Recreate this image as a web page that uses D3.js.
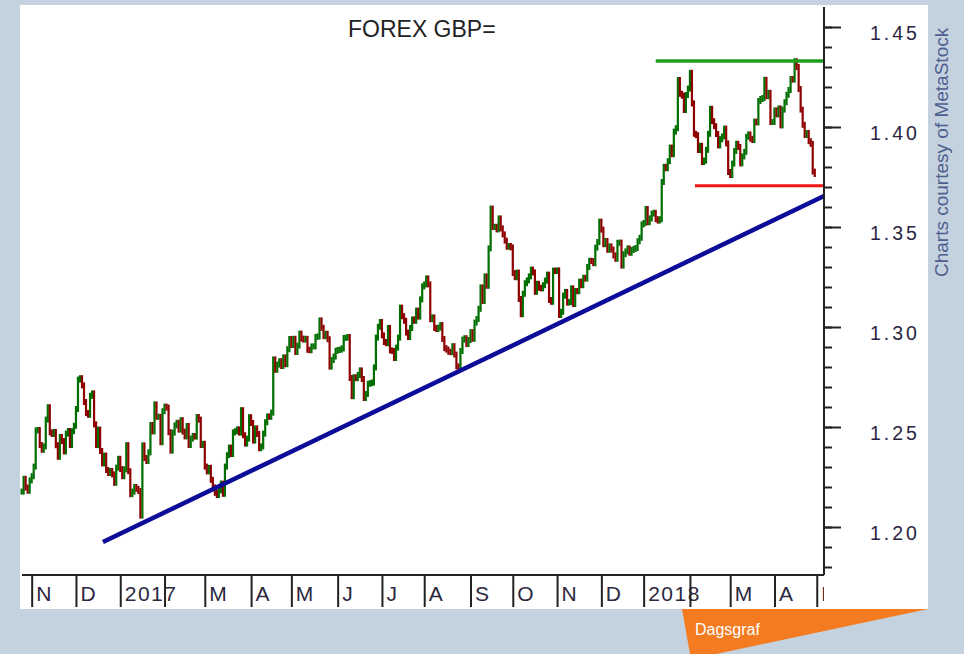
<!DOCTYPE html>
<html>
<head>
<meta charset="utf-8">
<script src="https://cdnjs.cloudflare.com/ajax/libs/d3/7.8.5/d3.min.js"></script>
<style>
body { margin: 0; background: #c4d1de; }
svg { display: block; font-family: Arial, "Liberation Sans", sans-serif; }
</style>
</head>
<body>
<svg width="964" height="654"></svg>
<script>
// daily closes, one array per month (trading days)
var oct16 = [1.2177, 1.2241, 1.2197, 1.2181, 1.2233]
var nov16 = [1.2254, 1.2302, 1.2483, 1.2485, 1.2410, 1.2386, 1.2403, 1.2537, 1.2599, 1.2473, 1.2465,
             1.2475, 1.2409, 1.2351, 1.2450, 1.2430, 1.2378, 1.2467, 1.2480, 1.2410, 1.2479, 1.2506]
var dec16 = [1.2590, 1.2737, 1.2744, 1.2708, 1.2625, 1.2570, 1.2561, 1.2656, 1.2668, 1.2513, 1.2410,
             1.2487, 1.2380, 1.2318, 1.2357, 1.2285, 1.2270, 1.2280, 1.2263, 1.2221, 1.2297, 1.2341]
var jan17 = [1.2290, 1.2254, 1.2288, 1.2409, 1.2279, 1.2164, 1.2177, 1.2200, 1.2191, 1.2180, 1.2057,
             1.2408, 1.2345, 1.2330, 1.2373, 1.2510, 1.2478, 1.2613, 1.2551, 1.2551, 1.2424, 1.2579]
var feb17 = [1.2602, 1.2597, 1.2474, 1.2382, 1.2472, 1.2508, 1.2521, 1.2487, 1.2534, 1.2477,
             1.2453, 1.2505, 1.2410, 1.2442, 1.2455, 1.2452, 1.2550, 1.2537, 1.2410, 1.2416]
var mar17 = [1.2302, 1.2278, 1.2296, 1.2236, 1.2198, 1.2171, 1.2160, 1.2183, 1.2217, 1.2166, 1.2302, 1.2359,
             1.2397, 1.2365, 1.2473, 1.2479, 1.2488, 1.2472, 1.2584, 1.2459, 1.2417, 1.2442, 1.2549]
var apr17 = [1.2520, 1.2432, 1.2493, 1.2465, 1.2394, 1.2403, 1.2467, 1.2524, 1.2553, 1.2551,
             1.2572, 1.2838, 1.2786, 1.2812, 1.2829, 1.2805, 1.2848, 1.2814, 1.2889, 1.2940]
var may17 = [1.2910, 1.2941, 1.2875, 1.2907, 1.2967, 1.2942, 1.2937, 1.2941, 1.2886, 1.2884, 1.2903, 1.2903,
             1.2950, 1.2953, 1.3033, 1.2996, 1.2954, 1.2966, 1.2939, 1.2802, 1.2835, 1.2852, 1.2881]
var jun17 = [1.2885, 1.2887, 1.2893, 1.2945, 1.2947, 1.2950, 1.2745, 1.2654, 1.2749, 1.2744, 1.2760,
             1.2783, 1.2740, 1.2645, 1.2665, 1.2716, 1.2719, 1.2722, 1.2798, 1.2947, 1.3001, 1.3025]
var jul17 = [1.2958, 1.2925, 1.2919, 1.2995, 1.2883, 1.2880, 1.2845, 1.2897, 1.2947, 1.3097, 1.3054,
             1.3031, 1.2972, 1.2950, 1.2995, 1.3038, 1.3031, 1.3082, 1.3052, 1.3138, 1.3203]
var aug17 = [1.3213, 1.3243, 1.3213, 1.3039, 1.3048, 1.2995, 1.2990, 1.2997, 1.3010, 1.2940, 1.2894, 1.2887,
             1.2876, 1.2874, 1.2904, 1.2862, 1.2803, 1.2801, 1.2880, 1.2937, 1.2944, 1.2915, 1.2935]
var sep17 = [1.2974, 1.2941, 1.3022, 1.3040, 1.3091, 1.3198, 1.3130, 1.3253, 1.3206, 1.3393, 1.3592,
             1.3500, 1.3501, 1.3488, 1.3543, 1.3493, 1.3463, 1.3432, 1.3401, 1.3405, 1.3398]
var oct17 = [1.3270, 1.3249, 1.3272, 1.3140, 1.3064, 1.3166, 1.3219, 1.3233, 1.3253, 1.3287, 1.3273,
             1.3176, 1.3216, 1.3196, 1.3193, 1.3209, 1.3232, 1.3262, 1.3135, 1.3126, 1.3282, 1.3280]
var nov17 = [1.3283, 1.3060, 1.3076, 1.3157, 1.3175, 1.3122, 1.3125, 1.3193, 1.3115, 1.3180, 1.3179,
             1.3227, 1.3209, 1.3246, 1.3242, 1.3300, 1.3331, 1.3330, 1.3319, 1.3397, 1.3425, 1.3527]
var dec17 = [1.3487, 1.3414, 1.3430, 1.3386, 1.3403, 1.3387, 1.3358, 1.3341, 1.3421, 1.3422, 1.3307,
             1.3364, 1.3378, 1.3393, 1.3371, 1.3385, 1.3390, 1.3395, 1.3429, 1.3446, 1.3513]
var jan18 = [1.3520, 1.3590, 1.3524, 1.3543, 1.3567, 1.3571, 1.3539, 1.3532, 1.3539, 1.3725, 1.3801, 1.3794,
             1.3829, 1.3897, 1.3864, 1.3977, 1.3994, 1.4235, 1.4166, 1.4157, 1.4085, 1.4160, 1.4192]
var feb18 = [1.4271, 1.4118, 1.3966, 1.3959, 1.3885, 1.3906, 1.3825, 1.3832, 1.3886, 1.3966,
             1.4091, 1.4029, 1.4004, 1.3965, 1.3908, 1.3939, 1.3953, 1.3992, 1.3918, 1.3775]
var mar18 = [1.3760, 1.3817, 1.3880, 1.3916, 1.3900, 1.3818, 1.3853, 1.3876, 1.3951, 1.3963, 1.3941,
             1.3935, 1.4027, 1.4023, 1.4130, 1.4140, 1.4145, 1.4236, 1.4154, 1.4171, 1.4025, 1.4025]
var apr18 = [1.4083, 1.4063, 1.4093, 1.4008, 1.4087, 1.4124, 1.4161, 1.4185, 1.4240, 1.4237, 1.4329,
             1.4300, 1.4190, 1.4087, 1.4011, 1.3960, 1.3970, 1.3929, 1.3916, 1.3777, 1.3765]

var months = [oct16, nov16, dec16, jan17, feb17, mar17, apr17, may17, jun17, jul17, aug17, sep17,
              oct17, nov17, dec17, jan18, feb18, mar18, apr18]

// one label per month start from Nov 2016, last one is May 2018
var monthLabels = ["N", "D", "2017", "", "M", "A", "M", "J", "J", "A", "S", "O", "N", "D", "2018", "", "M", "A", "M"]
var yTicks = [1.20, 1.25, 1.30, 1.35, 1.40, 1.45]

// hand drawn lines: bar index where they start, price at start and at right edge
var supportDays = [40.4]
var supportValues = [1.1925, 1.3655]
var resistanceDay = 315
var resistanceValue = 1.433
var floorDay = 334.5
var floorValue = 1.3706

var svg = d3.select("svg")
var frame = {left: 20, top: 5, right: 928, bottom: 609}
var plot = {left: 20, right: 824, top: 7, bottom: 575}

svg.append("rect")
    .attr("x", frame.left).attr("y", frame.top)
    .attr("width", frame.right - frame.left)
    .attr("height", frame.bottom - frame.top)
    .attr("fill", "white")

var closes = [].concat.apply([], months)
var monthStarts = []
var count = 0
months.forEach(function(m, k) {
    if (k > 0) monthStarts.push(count)
    count += m.length
})
monthStarts.push(count)

var xScale = d3.scaleLinear().domain([-0.8, 398.6]).range([plot.left, plot.right])
var yScale = d3.scaleLinear().domain([1.20, 1.45]).range([527, 27])
var lastDay = xScale.domain()[1]

// price bars
var bars = closes.map(function(c, i) {
    return {i: i, open: i > 0 ? closes[i - 1] : c, close: c}
})

svg.append("g")
    .attr("id", "bars")
    .selectAll("line")
    .data(bars)
    .enter()
    .append("line")
    .attr("x1", function(d) { return xScale(d.i) })
    .attr("x2", function(d) { return xScale(d.i) })
    .attr("y1", function(d) { return Math.max(yScale(d.open), yScale(d.close)) + 3 })
    .attr("y2", function(d) { return Math.min(yScale(d.open), yScale(d.close)) - 3 })
    .attr("stroke", function(d) { return d.close >= d.open ? "#006e00" : "#8e0000" })
    .attr("stroke-width", 2.2)

// trend lines
svg.append("line")
    .attr("x1", xScale(supportDays[0])).attr("y1", yScale(supportValues[0]))
    .attr("x2", xScale(lastDay)).attr("y2", yScale(supportValues[1]))
    .attr("stroke", "#0c0c99").attr("stroke-width", 4.5)

svg.append("line")
    .attr("x1", xScale(resistanceDay)).attr("y1", yScale(resistanceValue))
    .attr("x2", xScale(lastDay)).attr("y2", yScale(resistanceValue))
    .attr("stroke", "#1ea01e").attr("stroke-width", 3.5)

svg.append("line")
    .attr("x1", xScale(floorDay)).attr("y1", yScale(floorValue))
    .attr("x2", xScale(lastDay)).attr("y2", yScale(floorValue))
    .attr("stroke", "#f01414").attr("stroke-width", 3)

// right price axis
var minorTicks = d3.range(118, 146).map(function(v) { return v / 100 })

var yMinor = d3.axisRight(yScale).tickValues(minorTicks).tickSize(8).tickFormat("")
var yAxis = d3.axisRight(yScale).tickValues(yTicks).tickSize(17).tickPadding(29)
    .tickFormat(d3.format(".2f"))

var gMinor = svg.append("g").attr("transform", "translate(" + plot.right + ",0)").call(yMinor)
gMinor.select(".domain").remove()
gMinor.selectAll("line").attr("stroke", "#222").attr("stroke-width", 2)

var gy = svg.append("g").attr("transform", "translate(" + plot.right + ",0)").call(yAxis)
gy.attr("font-family", null).attr("font-size", null)
gy.select(".domain").remove()
gy.selectAll("line").attr("stroke", "#222").attr("stroke-width", 2)
gy.selectAll("text")
    .attr("font-size", 19.5)
    .attr("letter-spacing", 3)
    .attr("fill", "#2a2440")
    .attr("dy", "0.62em")

svg.append("line")
    .attr("x1", plot.right).attr("x2", plot.right)
    .attr("y1", plot.top).attr("y2", plot.bottom)
    .attr("stroke", "#222").attr("stroke-width", 2)

// month axis
svg.append("clipPath").attr("id", "monthClip")
    .append("rect").attr("x", 0).attr("y", 0).attr("width", plot.right).attr("height", 654)

var xAxis = d3.axisBottom(xScale).tickValues(monthStarts).tickSize(32)
    .tickFormat(function(d, i) { return monthLabels[i] })

var gx = svg.append("g")
    .attr("clip-path", "url(#monthClip)")
    .append("g")
    .attr("transform", "translate(0," + plot.bottom + ")")
    .call(xAxis)
gx.attr("font-family", null).attr("font-size", null)
gx.select(".domain").remove()
gx.selectAll("line").attr("stroke", "#222").attr("stroke-width", 2)
gx.selectAll("text")
    .attr("text-anchor", "start")
    .attr("x", 4).attr("y", 26).attr("dy", null)
    .attr("font-size", 21)
    .attr("letter-spacing", 1.5)
    .attr("fill", "#2b2840")

svg.append("line")
    .attr("x1", 22).attr("x2", plot.right)
    .attr("y1", plot.bottom).attr("y2", plot.bottom)
    .attr("stroke", "#222").attr("stroke-width", 2)

// title and credits
svg.append("text")
    .attr("x", 348).attr("y", 37)
    .attr("font-size", 23)
    .attr("fill", "#222")
    .text("FOREX GBP=")

svg.append("text")
    .attr("transform", "translate(948,277) rotate(-90)")
    .attr("font-size", 19)
    .attr("fill", "#4e5e8e")
    .text("Charts courtesy of MetaStock")

svg.append("polygon")
    .attr("points", "682,609 928,609 716,654 690,654")
    .attr("fill", "#f47b20")

svg.append("text")
    .attr("x", 695).attr("y", 635)
    .attr("font-size", 16)
    .attr("fill", "white")
    .text("Dagsgraf")
</script>
</body>
</html>
